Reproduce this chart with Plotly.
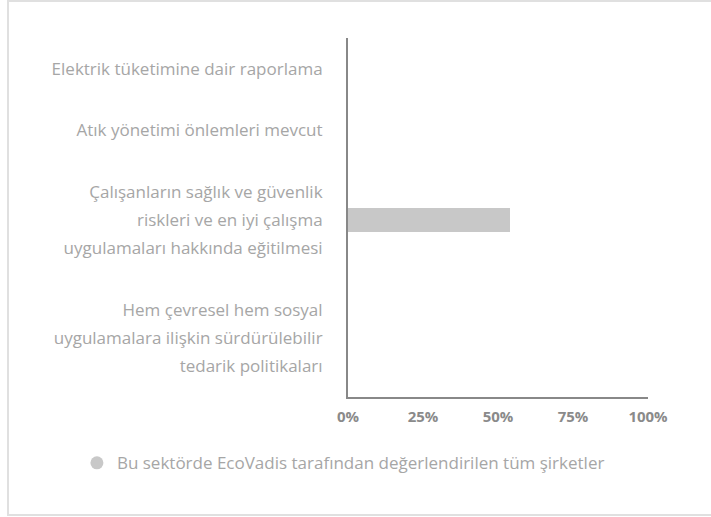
import plotly.graph_objects as go

categories = [
    "Elektrik tüketimine dair raporlama",
    "Atık yönetimi önlemleri mevcut",
    "Çalışanların sağlık ve güvenlik<br>riskleri ve en iyi çalışma<br>uygulamaları hakkında eğitilmesi",
    "Hem çevresel hem sosyal<br>uygulamalara ilişkin sürdürülebilir<br>tedarik politikaları",
]
values = [0, 0, 54, 0]
series_name = "Bu sektörde EcoVadis tarafından değerlendirilen tüm şirketler"
x_ticks = [0, 25, 50, 75, 100]

# band layout: each category band grows with number of label lines
LINE_H = 28
PAD = 33
lines = [c.split("<br>") for c in categories]
heights = [PAD + LINE_H * len(l) for l in lines]
centers = []
acc = 0
for h in heights:
    centers.append(acc + h / 2)
    acc += h
total = acc

tickvals, ticktext = [], []
for c, ls in zip(centers, lines):
    n = len(ls)
    for i, t in enumerate(ls):
        tickvals.append(c + (i - (n - 1) / 2) * LINE_H)
        ticktext.append(t)

fig = go.Figure()
fig.add_trace(go.Bar(
    x=values, y=centers, orientation="h", width=23,
    marker=dict(color="#c8c8c8", line=dict(width=0)),
    name=series_name, showlegend=False, hoverinfo="x",
))
# legend entry with circle marker
fig.add_trace(go.Scatter(
    x=[None], y=[None], mode="markers",
    marker=dict(color="#c8c8c8", size=13, symbol="circle"),
    name=series_name, showlegend=True,
))

fig.update_layout(
    width=711, height=517,
    margin=dict(l=348, r=63, t=38, b=120),
    paper_bgcolor="white", plot_bgcolor="white",
    font=dict(family="Open Sans", size=17, color="#a6a6a6"),
    showlegend=True,
    legend=dict(orientation="h", xref="container", yref="container",
                x=0.483, y=0.104, xanchor="center", yanchor="middle",
                font=dict(size=17, color="#a6a6a6"), itemwidth=30),
    bargap=0,
)
fig.update_xaxes(
    range=[0, 100], tickvals=x_ticks, ticktext=[f"{v}%" for v in x_ticks],
    showgrid=False, zeroline=False, showline=True, linecolor="#888888", linewidth=2,
    ticks="outside", ticklen=5, tickcolor="rgba(0,0,0,0)",
    tickfont=dict(family="Open Sans", size=15, color="#8a8a8a", weight="bold"),
    fixedrange=True,
)
fig.update_yaxes(
    range=[total, 0], tickvals=tickvals, ticktext=ticktext,
    showgrid=False, zeroline=False, showline=True, linecolor="#888888", linewidth=2,
    ticks="outside", ticklen=20, tickcolor="rgba(0,0,0,0)",
    tickfont=dict(family="Open Sans", size=17, color="#a6a6a6"),
    fixedrange=True,
)
# outer frame
fig.add_shape(type="rect", xref="paper", yref="paper",
              x0=(8 - 348) / 300, x1=(716 - 348) / 300,
              y0=(397 - 515) / 359, y1=1 + (38 - 1) / 359,
              line=dict(color="#e0e0e0", width=2), layer="below")

fig.write_html("out.html", config={"displayModeBar": False},
               post_script="document.body.style.margin='0';document.body.style.overflow='hidden';")
